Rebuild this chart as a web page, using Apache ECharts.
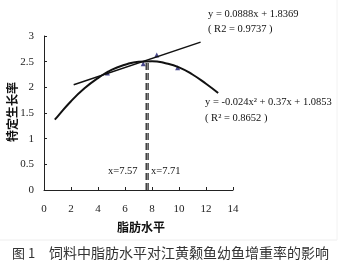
<!DOCTYPE html>
<html><head><meta charset="utf-8">
<script src="https://cdn.jsdelivr.net/npm/echarts@6/dist/echarts.min.js"></script>
<style>html,body{margin:0;padding:0;background:#fff}#c{width:350px;height:269px}</style>
</head><body><div id="c"></div>
<script>
// Values
var quadX = [0.8, 1, 2, 3, 4, 5, 6, 7, 8, 9, 10, 11, 12, 12.9];
var quadY = [1.37, 1.43, 1.73, 1.98, 2.18, 2.34, 2.44, 2.50, 2.51, 2.47, 2.39, 2.25, 2.07, 1.89];
var linX = [2.2, 11.6];
var linY = [2.05, 2.88];
var ptX = [4.7, 7.35, 8.35, 9.9];
var ptY = [2.28, 2.46, 2.63, 2.38];
var vLines = [7.57, 7.71];
var vTop = 2.5;
var xTicks = [0, 2, 4, 6, 8, 10, 12, 14];
var yTicks = [0, 0.5, 1, 1.5, 2, 2.5, 3];
var xName = '脂肪水平';
var yName = '特定生长率';
var eqLin = ['y = 0.0888x + 1.8369', '( R2 = 0.9737 )'];
var eqQuad = ['y = -0.024x² + 0.37x + 1.0853', '( R² = 0.8652 )'];
var figNo = '图 1';
var caption = '饲料中脂肪水平对江黄颡鱼幼鱼增重率的影响';

function zip(a, b) { return a.map(function (v, i) { return [v, b[i]]; }); }
var chart = echarts.init(document.getElementById('c'), null, {renderer: 'canvas'});
var serif = '"Liberation Serif","DejaVu Serif",serif';
var txt = {fontFamily: serif, fontSize: 10.5, fill: '#111'};
var option = {
  animation: false,
  grid: {left: 44, right: 117, top: 36, bottom: 79},
  xAxis: {
    type: 'value', min: 0, max: 14, interval: 2,
    axisLine: {lineStyle: {color: '#222'}},
    axisTick: {inside: true, length: 3, lineStyle: {color: '#222'}},
    axisLabel: {margin: 14, color: '#222', fontFamily: serif, fontSize: 11},
    splitLine: {show: false}
  },
  yAxis: {
    type: 'value', min: 0, max: 3, interval: 0.5,
    axisLine: {show: true, lineStyle: {color: '#222'}},
    axisTick: {show: true, inside: true, length: 3, lineStyle: {color: '#222'}},
    axisLabel: {margin: 10, color: '#222', fontFamily: serif, fontSize: 11},
    splitLine: {show: false}
  },
  series: [
    {type: 'line', data: zip(quadX, quadY), smooth: true, symbol: 'none',
     lineStyle: {color: '#111', width: 2}},
    {type: 'line', data: zip(linX, linY), symbol: 'none',
     lineStyle: {color: '#111', width: 1.5}},
    {type: 'scatter', data: zip(ptX, ptY), symbol: 'triangle', symbolSize: 5,
     itemStyle: {color: '#1a1a6e'}},
    {type: 'line', data: [[vLines[0], 0], [vLines[0], vTop]], symbol: 'none',
     lineStyle: {color: '#111', width: 1.2, type: [7, 3]}},
    {type: 'line', data: [[vLines[1], 0], [vLines[1], vTop]], symbol: 'none',
     lineStyle: {color: '#111', width: 1.2, type: [7, 3]}}
  ],
  graphic: [
    {type: 'text', left: 208, top: 9, style: Object.assign({text: eqLin[0]}, txt)},
    {type: 'text', left: 208, top: 24, style: Object.assign({text: eqLin[1]}, txt)},
    {type: 'text', left: 205, top: 97, style: Object.assign({text: eqQuad[0]}, txt)},
    {type: 'text', left: 205, top: 113, style: Object.assign({text: eqQuad[1]}, txt)},
    {type: 'text', left: 108, top: 166, style: Object.assign({text: 'x=' + vLines[0]}, txt)},
    {type: 'text', left: 151, top: 166, style: Object.assign({text: 'x=' + vLines[1]}, txt)},
    {type: 'text', left: 117, top: 221, style: {text: xName, fontFamily: '"Noto Sans CJK SC"', fontSize: 12, fontWeight: 'bold', fill: '#111'}},
    {type: 'text', x: 12, y: 112, rotation: Math.PI / 2,
     style: {text: yName, fontFamily: '"Noto Sans CJK SC"', fontSize: 12, fontWeight: 'bold', fill: '#111', align: 'center', verticalAlign: 'middle'}},
    {type: 'text', left: 12, top: 247, style: {text: figNo, fontFamily: '"Noto Sans CJK SC"', fontSize: 13, fill: '#333'}},
    {type: 'text', left: 49, top: 246, style: {text: caption, fontFamily: '"Noto Sans CJK SC"', fontSize: 14, fill: '#333'}},
    {type: 'line', shape: {x1: 0, y1: 240, x2: 337, y2: 240}, style: {stroke: '#eee', lineWidth: 1}},
    {type: 'line', shape: {x1: 337, y1: 0, x2: 337, y2: 240}, style: {stroke: '#f2f2f2', lineWidth: 1}}
  ]
};
chart.setOption(option);
</script></body></html>
